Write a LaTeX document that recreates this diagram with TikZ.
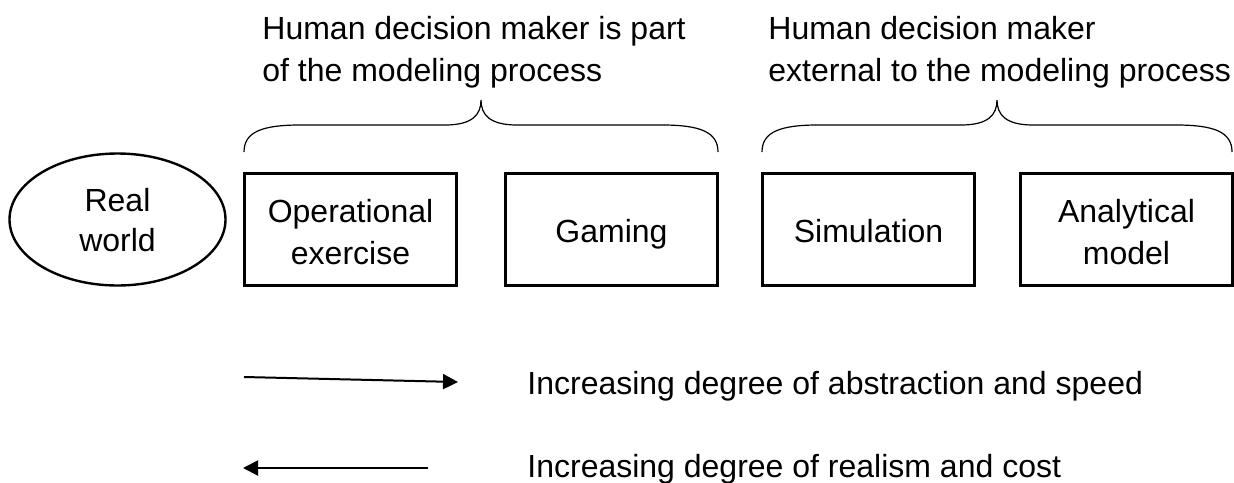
\documentclass[tikz,border=0pt]{standalone}
\usepackage{fontspec}
\setmainfont{Liberation Sans}
\usetikzlibrary{positioning, arrows.meta, shapes.geometric}

\newcommand{\firstline}{\rule{0pt}{14.5pt}}
\tikzset{
  labeltext/.style={font=\fontsize{16pt}{21pt}\selectfont, inner sep=0pt, align=left},
  methodbox/.style={draw, line width=1.5pt, minimum width=106pt, minimum height=56pt, inner sep=0pt, align=center,
    font=\fontsize{16pt}{21pt}\selectfont},
  worldshape/.style={draw, ellipse, line width=1.2pt, minimum width=108pt, minimum height=66pt, inner sep=0pt, align=center,
    font=\fontsize{16pt}{20pt}\selectfont},
  braceline/.style={line width=0.6pt},
  scaleline/.style={line width=1pt, -{Triangle[length=7.5pt,width=7.5pt]}}
}

\begin{document}
\begin{tikzpicture}[x=0.5pt,y=-0.5pt]
            \useasboundingbox (0,0) rectangle (1234,482);

            \node[worldshape](real) at (117.5,219.5){\rule{0pt}{12.5pt}Real\\world};
            \node[methodbox](opex) at (350.5,229.5){\firstline Operational\\exercise};
            \node[methodbox,text height=14.5pt,text depth=2pt](gaming)[right = 23pt of opex]{Gaming};
            \node[methodbox,text height=14.5pt,text depth=2pt](sim)[right = 21pt of gaming]{Simulation};
            \node[methodbox](anamod)[right = 21.5pt of sim]{\firstline Analytical\\model};

            \node[labeltext,anchor=west](parttxt) at (262,52){Human decision maker is part\\of the modeling process};
            \node[labeltext,anchor=west](exttxt) at (768,52){Human decision maker\\external to the modeling process};

            % braces over the two groups
            \draw[braceline] (244,152) .. controls (244,132) and (262,125) .. (300,125) -- (445,125)
              .. controls (472,125) and (481,115) .. (481,100) .. controls (481,115) and (490,125) .. (517,125)
              -- (662,125) .. controls (700,125) and (718,132) .. (718,152);
            \draw[braceline] (762,152) .. controls (762,132) and (780,125) .. (818,125) -- (961,125)
              .. controls (988,125) and (997,115) .. (997,100) .. controls (997,115) and (1006,125) .. (1033,125)
              -- (1176,125) .. controls (1214,125) and (1232,132) .. (1232,152);

            \node[labeltext,anchor=base west](abstxt) at (527,394){Increasing degree of abstraction and speed};
            \node[labeltext,anchor=base west](realtxt) at (527,477){Increasing degree of realism and cost};

            \coordinate (absstart) at (244,377);
            \coordinate (absend) at (458,382);
            \coordinate (realstart) at (428,468);
            \coordinate (realend) at (243,468);
            \draw[scaleline] (absstart) -- (absend);
            \draw[scaleline] (realstart) -- (realend);
        \end{tikzpicture}
\end{document}
